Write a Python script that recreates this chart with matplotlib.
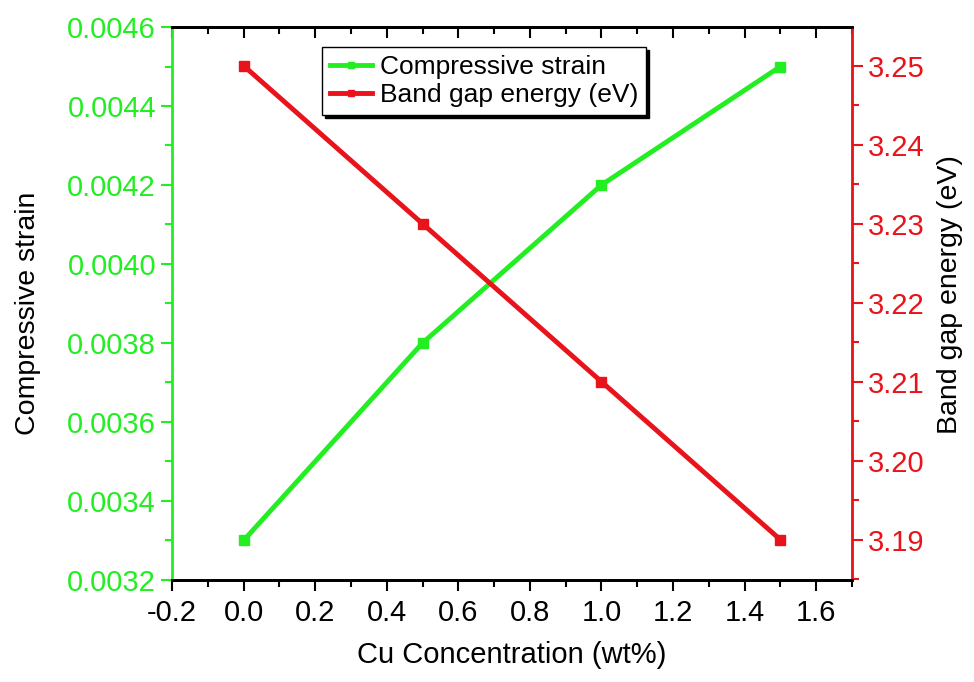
import matplotlib.pyplot as plt
from matplotlib.ticker import MultipleLocator

plt.rcParams['font.family'] = ['Liberation Sans', 'DejaVu Sans']
plt.rcParams['axes.unicode_minus'] = False

# data
cu = [0.0, 0.5, 1.0, 1.5]
strain = [0.0033, 0.0038, 0.0042, 0.0045]
band_gap = [3.25, 3.23, 3.21, 3.19]

green = '#22ee22'
red = '#e8131b'

fig = plt.figure(figsize=(9.74, 6.82), dpi=100)
ax = fig.add_axes([0.1766, 0.1496, 0.6981, 0.8108])
ax2 = ax.twinx()

l1, = ax.plot(cu, strain, color=green, lw=3.5, marker='s', ms=7.5,
              label='Compressive strain')
l2, = ax2.plot(cu, band_gap, color=red, lw=3.5, marker='s', ms=7.5,
               label='Band gap energy (eV)')

ax.set_xlim(-0.2, 1.7)
ax.set_ylim(0.0032, 0.0046)
ax2.set_ylim(3.1849, 3.2549)

ax.xaxis.set_major_locator(MultipleLocator(0.2))
ax.xaxis.set_minor_locator(MultipleLocator(0.1))
ax.yaxis.set_major_locator(MultipleLocator(0.0002))
ax.yaxis.set_minor_locator(MultipleLocator(0.0001))
ax2.yaxis.set_major_locator(MultipleLocator(0.01))
ax2.yaxis.set_minor_locator(MultipleLocator(0.005))
ax.yaxis.set_major_formatter(plt.FormatStrFormatter('%.4f'))
ax2.yaxis.set_major_formatter(plt.FormatStrFormatter('%.2f'))

ax.tick_params(axis='x', which='both', direction='out', width=1.5,
               labelsize=21, pad=6)
ax.tick_params(axis='x', which='major', length=8)
ax.tick_params(axis='x', which='minor', length=5)
ax.tick_params(axis='y', which='both', colors=green, width=1.5, labelsize=21)
ax.tick_params(axis='y', which='major', length=8)
ax.tick_params(axis='y', which='minor', length=5)
ax2.tick_params(axis='y', which='both', colors=red, width=1.5, labelsize=21)
ax2.tick_params(axis='y', which='major', length=8)
ax2.tick_params(axis='y', which='minor', length=5)

# top axis: ticks pointing into the plot, no labels
top = ax.secondary_xaxis('top')
top.xaxis.set_major_locator(MultipleLocator(0.2))
top.xaxis.set_minor_locator(MultipleLocator(0.1))
top.tick_params(which='both', direction='in', width=1.5, labeltop=False)
top.tick_params(which='major', length=8)
top.tick_params(which='minor', length=5)
top.spines['top'].set_linewidth(2)

for a in (ax, ax2):
    a.spines['top'].set_linewidth(2)
    a.spines['bottom'].set_linewidth(2)
ax.spines['left'].set_color(green)
ax.spines['left'].set_linewidth(2)
ax2.spines['left'].set_visible(False)
ax2.spines['right'].set_color(red)
ax2.spines['right'].set_linewidth(2)

ax.set_xlabel('Cu Concentration (wt%)', fontsize=21, labelpad=10)
ax.set_ylabel('Compressive strain', fontsize=20.5, labelpad=19)
ax2.set_ylabel('Band gap energy (eV)', fontsize=20.5, labelpad=9)
ax.yaxis.label.set_y(0.483)
ax2.yaxis.label.set_y(0.517)

leg = ax2.legend([l1, l2], ['Compressive strain', 'Band gap energy (eV)'],
                 loc='upper left', bbox_to_anchor=(0.201, 0.987), fontsize=19,
                 fancybox=False, edgecolor='black', framealpha=1,
                 shadow={'color': 'black', 'alpha': 1},
                 handlelength=1.6, markerscale=0.6, borderpad=0.3,
                 labelspacing=0.15, handletextpad=0.3)
leg.get_frame().set_linewidth(1)

fig.savefig('out.png', dpi=100)
